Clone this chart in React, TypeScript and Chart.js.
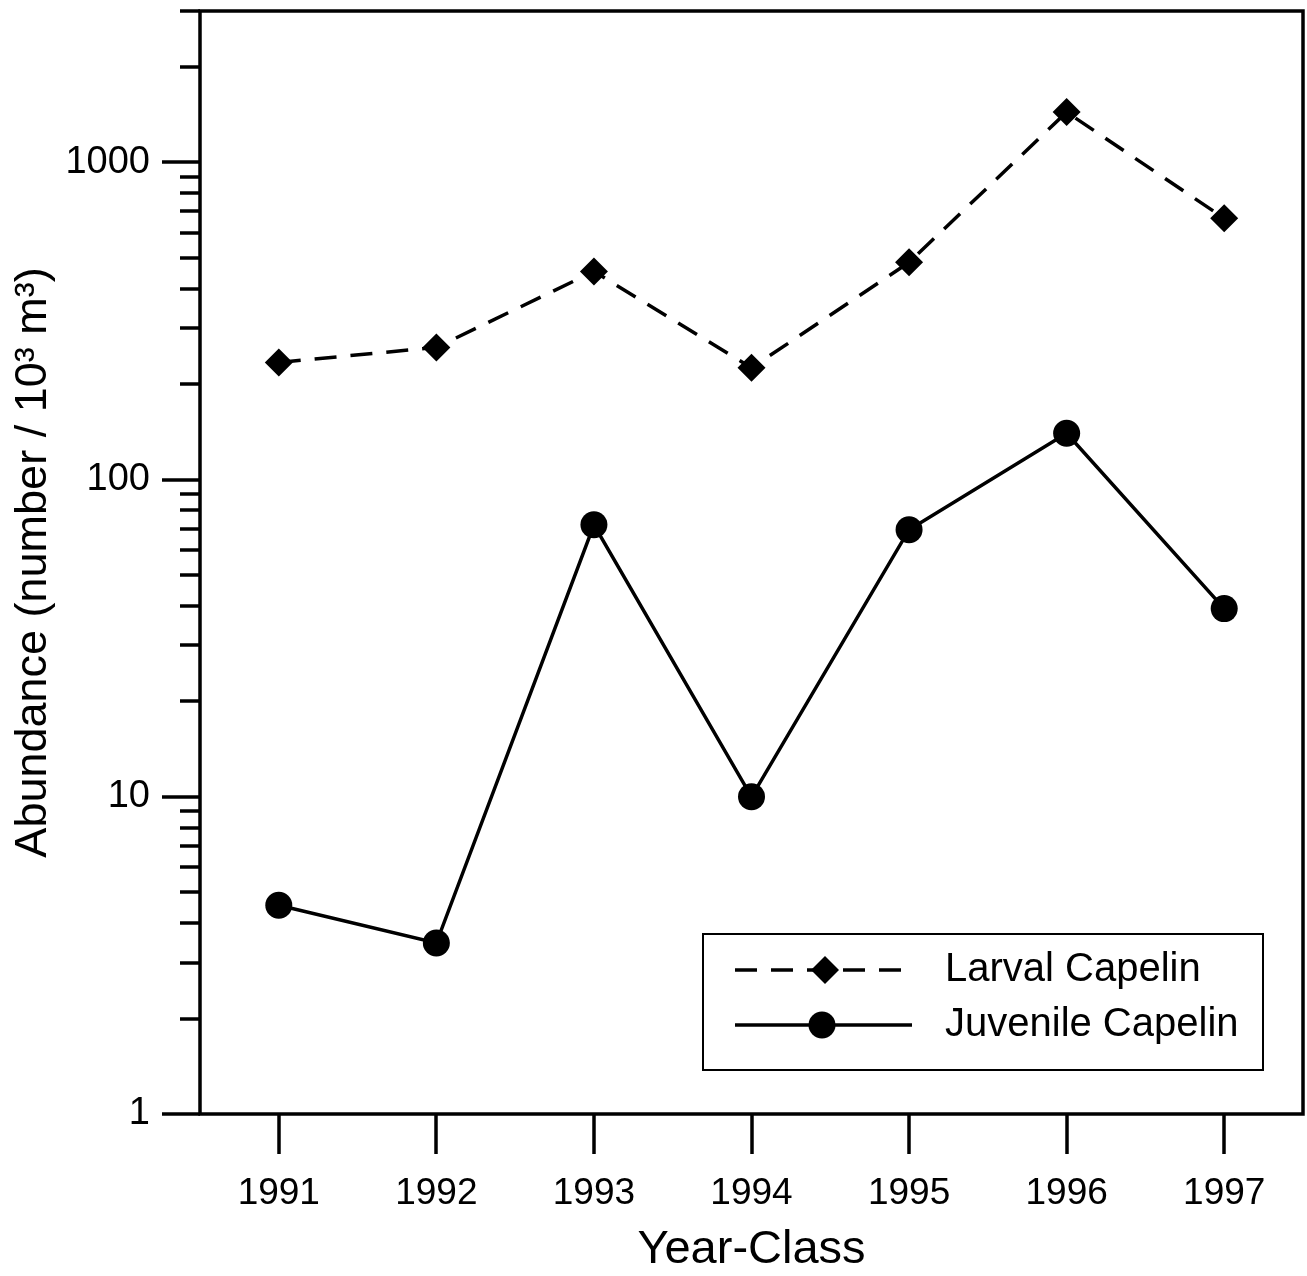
import React, { useEffect, useRef } from "react";
import { Chart, registerables } from "chart.js";

Chart.register(...registerables);

const years = ["1991", "1992", "1993", "1994", "1995", "1996", "1997"];
const larvalCapelin = [234, 261, 453, 225, 484, 1440, 666];
const juvenileCapelin = [4.55, 3.46, 72, 10, 69.5, 140, 39.2];
const yMajorTicks = [1, 10, 100, 1000];
const yAllTicks = [
  1, 2, 3, 4, 5, 6, 7, 8, 9,
  10, 20, 30, 40, 50, 60, 70, 80, 90,
  100, 200, 300, 400, 500, 600, 700, 800, 900,
  1000, 2000, 3000,
];
const seriesLabels = ["Larval Capelin", "Juvenile Capelin"];
const yTitle = "Abundance (number / 10\u00B3 m\u00B3)";
const xTitle = "Year-Class";

const FONT = "'Liberation Sans', Arial, Helvetica, sans-serif";

const framePlugin = {
  id: "framePlugin",
  afterDraw(chart: any) {
    const { ctx, chartArea } = chart;
    const { left, right, top, bottom } = chartArea;
    const xs = chart.scales.x;
    const ys = chart.scales.y;
    ctx.save();
    ctx.strokeStyle = "#000";
    ctx.lineWidth = 3.5;
    ctx.lineCap = "butt";
    ctx.strokeRect(left, top, right - left, bottom - top);
    ys.ticks.forEach((t: any) => {
      const y = Math.round(ys.getPixelForValue(t.value));
      const major = yMajorTicks.includes(t.value);
      const len = major ? 38 : 20;
      ctx.beginPath();
      ctx.moveTo(left - len, y);
      ctx.lineTo(left, y);
      ctx.stroke();
    });
    years.forEach((_y, i) => {
      const x = Math.round(xs.getPixelForValue(i));
      ctx.beginPath();
      ctx.moveTo(x, bottom);
      ctx.lineTo(x, bottom + 40);
      ctx.stroke();
    });

    // legend
    const bx = 703, by = 934, bw = 560, bh = 136;
    ctx.fillStyle = "#fff";
    ctx.fillRect(bx, by, bw, bh);
    ctx.lineWidth = 2;
    ctx.strokeRect(bx, by, bw, bh);
    ctx.lineWidth = 3.5;
    const y1 = 970, y2 = 1025;
    ctx.setLineDash([22, 14]);
    ctx.beginPath();
    ctx.moveTo(735, y1);
    ctx.lineTo(905, y1);
    ctx.stroke();
    ctx.setLineDash([]);
    ctx.fillStyle = "#000";
    ctx.beginPath();
    ctx.moveTo(825 - 14, y1);
    ctx.lineTo(825, y1 - 14);
    ctx.lineTo(825 + 14, y1);
    ctx.lineTo(825, y1 + 14);
    ctx.closePath();
    ctx.fill();
    ctx.beginPath();
    ctx.moveTo(735, y2);
    ctx.lineTo(912, y2);
    ctx.stroke();
    ctx.beginPath();
    ctx.arc(822, y2, 13.5, 0, Math.PI * 2);
    ctx.fill();
    ctx.font = `40px ${FONT}`;
    ctx.textBaseline = "middle";
    ctx.textAlign = "left";
    ctx.fillText(seriesLabels[0], 945, y1);
    ctx.fillText(seriesLabels[1], 945, y2);
    ctx.restore();
  },
};

export default function App() {
  const ref = useRef<HTMLCanvasElement | null>(null);
  useEffect(() => {
    if (!ref.current) return;
    const chart = new Chart(ref.current, {
      type: "line",
      data: {
        labels: years,
        datasets: [
          {
            label: seriesLabels[0],
            data: larvalCapelin,
            borderColor: "#000",
            backgroundColor: "#000",
            borderWidth: 3.5,
            borderDash: [22, 14],
            pointStyle: "rectRot",
            pointRadius: 14,
            pointBorderWidth: 0,
            pointBackgroundColor: "#000",
            tension: 0,
            fill: false,
          },
          {
            label: seriesLabels[1],
            data: juvenileCapelin,
            borderColor: "#000",
            backgroundColor: "#000",
            borderWidth: 3.5,
            pointStyle: "circle",
            pointRadius: 13.5,
            pointBorderWidth: 0,
            pointBackgroundColor: "#000",
            tension: 0,
            fill: false,
          },
        ],
      },
      options: {
        responsive: false,
        animation: false,
        devicePixelRatio: 1,
        layout: { autoPadding: false, padding: { top: 11, right: 4, left: 0, bottom: 0 } },
        plugins: {
          legend: { display: false },
          tooltip: { enabled: false },
          title: { display: false },
        },
        scales: {
          x: {
            type: "category",
            offset: true,
            grid: { display: false, drawTicks: false },
            border: { display: false },
            ticks: {
              color: "#000",
              font: { family: FONT, size: 37 },
              padding: 58,
              maxRotation: 0,
              autoSkip: false,
            },
            title: {
              display: true,
              text: xTitle,
              color: "#000",
              font: { family: FONT, size: 47, lineHeight: 1.1 },
              padding: { top: 0, bottom: 0 },
            },
            afterFit(scale: any) {
              scale.height = 162;
              scale.paddingLeft = 0;
              scale.paddingRight = 0;
              scale.paddingTop = 0;
              scale.paddingBottom = 0;
            },
          },
          y: {
            type: "logarithmic",
            min: 1,
            max: 3000,
            grid: { display: false, drawTicks: false },
            border: { display: false },
            afterBuildTicks(scale: any) {
              scale.ticks = yAllTicks.map((v) => ({ value: v, major: yMajorTicks.includes(v) }));
            },
            ticks: {
              color: "#000",
              font: { family: FONT, size: 38 },
              padding: 50,
              autoSkip: false,
              callback: (v: any) => (yMajorTicks.includes(Number(v)) ? String(v) : ""),
            },
            title: {
              display: true,
              text: yTitle,
              color: "#000",
              font: { family: FONT, size: 45 },
              padding: { top: 7, bottom: 0 },
            },
            afterFit(scale: any) {
              scale.width = 200;
              scale.paddingLeft = 0;
              scale.paddingRight = 0;
              scale.paddingTop = 0;
              scale.paddingBottom = 0;
            },
          },
        },
      },
      plugins: [framePlugin],
    } as any);
    return () => chart.destroy();
  }, []);
  return (
    <div style={{ position: "fixed", left: 0, top: 0, width: 1307, height: 1276, background: "#fff" }}>
      <canvas ref={ref} width={1307} height={1276} style={{ display: "block" }} />
    </div>
  );
}
